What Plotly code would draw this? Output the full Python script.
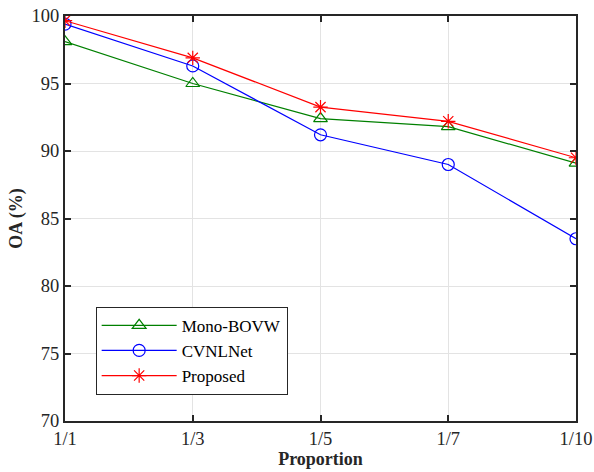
import plotly.graph_objects as go

proportions = ["1/1", "1/3", "1/5", "1/7", "1/10"]
mono_bovw = [98.1, 95.0, 92.4, 91.8, 89.1]
cvnlnet = [99.4, 96.3, 91.2, 89.0, 83.5]
proposed = [99.65, 96.9, 93.25, 92.2, 89.5]

FONT = "Liberation Serif, Times New Roman, serif"

fig = go.Figure()
fig.add_trace(go.Scatter(x=proportions, y=mono_bovw, name="Mono-BOVW", mode="lines+markers",
                         line=dict(color="#008000", width=1.2),
                         marker=dict(symbol="triangle-up-open", size=12, color="#008000", line=dict(width=1.2))))
fig.add_trace(go.Scatter(x=proportions, y=cvnlnet, name="CVNLNet", mode="lines+markers",
                         line=dict(color="#0000ff", width=1.2),
                         marker=dict(symbol="circle-open", size=12, color="#0000ff", line=dict(width=1.2))))
fig.add_trace(go.Scatter(x=proportions, y=proposed, name="Proposed", mode="lines+markers",
                         line=dict(color="#ff0000", width=1.2),
                         marker=dict(symbol="asterisk-open", size=12, color="#ff0000", line=dict(width=1.2))))

axis_common = dict(showline=True, linecolor="#262626", linewidth=2, mirror="ticks",
                   ticks="inside", ticklen=6, tickwidth=2, tickcolor="#262626",
                   showgrid=True, gridcolor="#e3e3e3", gridwidth=1, zeroline=False,
                   automargin=False,
                   tickfont=dict(family=FONT, size=18.5, color="#262626"))

fig.update_layout(
    width=594, height=472,
    margin=dict(l=65, r=18, t=16, b=51),
    paper_bgcolor="white", plot_bgcolor="white",
    xaxis=dict(range=[0, 4], title=dict(text="<b>Proportion</b>", font=dict(family=FONT, size=18, color="#262626"), standoff=3),
               **axis_common),
    yaxis=dict(range=[70, 100], dtick=5, title=dict(text="<b>OA (%)</b>", font=dict(family=FONT, size=18, color="#262626"), standoff=4),
               **axis_common),
    legend=dict(x=0.06, y=0.282, xanchor="left", yanchor="top", bgcolor="white",
                bordercolor="#262626", borderwidth=1, itemwidth=75,
                font=dict(family=FONT, size=17, color="#000000"), tracegroupgap=0),
    showlegend=True,
)

fig.write_html("out.html")
